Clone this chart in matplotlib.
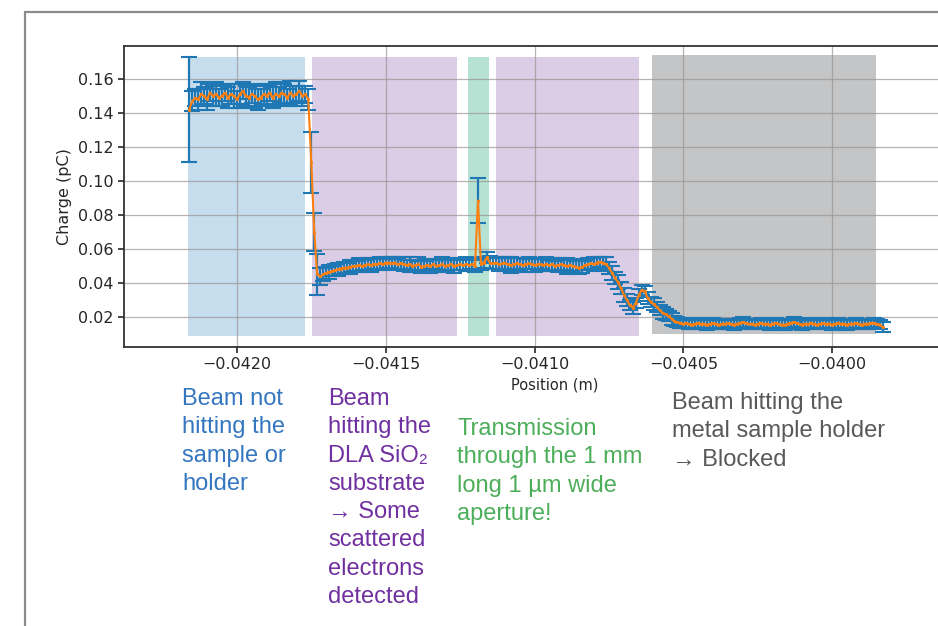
#!/usr/bin/env python3
"""Charge vs. position scan across the DLA sample, with region annotations."""

import numpy as np
import matplotlib.pyplot as plt
from matplotlib.patches import Rectangle

# scan positions (m), one point every 10 um
position_m = np.linspace(-0.04216, -0.03983, 234)

# measured charge, in fC (divided by 1000 -> pC when plotted)
charge_fc = [
    142, 147, 149, 148, 151, 150, 148, 152, 150, 151,
    149, 150, 152, 149, 151, 150, 148, 151, 153, 150,
    149, 151, 150, 148, 149, 151, 150, 152, 149, 151,
    150, 152, 151, 149, 152, 150, 151, 153, 150, 151,
    148, 111, 70, 45, 44, 45, 46, 46.5, 47, 47.5,
    48, 48.5, 49, 49, 49.5, 50, 50, 50.5, 50, 50.5,
    51, 50.5, 51, 51, 51.5, 51, 52, 52, 51.5, 52,
    51, 51.5, 51, 50.5, 51, 50, 50.5, 51, 49.5, 50,
    50.5, 50, 51, 50, 50.5, 51, 50, 50.5, 51, 50,
    50.5, 51, 50.5, 51, 50.5, 51, 50, 88.5, 51, 52,
    55, 52, 51.5, 52, 51, 51.5, 52, 51, 50.5, 51,
    51.5, 51, 50.5, 51, 51.5, 51, 50.5, 51, 51, 50.5,
    51, 50.5, 51, 50, 50.5, 51, 50.5, 50, 50.5, 50,
    49.5, 49, 49.5, 50.5, 51, 51.5, 51, 52, 52.5, 52,
    51, 49, 46, 43, 40.5, 37, 33, 30, 27, 25.5,
    28, 33, 36, 35, 31, 29, 27.5, 26, 24, 22.5,
    21.5, 20.5, 19, 17.5, 17, 16.5, 16, 16.5, 16, 15.5,
    16, 16.5, 16, 16, 15.5, 16, 16.5, 16, 15.5, 16,
    16, 16.5, 16, 15.5, 16, 16.5, 17, 16.5, 16, 16,
    15.5, 16, 16.5, 16, 16, 15.5, 16, 16.5, 16, 15.5,
    15.5, 16, 16.5, 17, 16.5, 16, 15.5, 16, 16, 16.5,
    16, 15.5, 16, 16.5, 16, 16, 15.5, 16, 16.5, 16,
    16, 15.5, 16, 16, 16.5, 16, 15.5, 16, 16, 16.5,
    16.5, 16, 15.5, 14,
]

# standard deviation of the charge, in fC
charge_err_fc = [
    31, 6, 5, 6, 7, 5, 6, 5, 6, 7,
    5, 6, 5, 6, 6, 7, 5, 6, 5, 6,
    6, 5, 7, 6, 5, 6, 6, 5, 6, 7,
    5, 6, 6, 5, 7, 6, 5, 6, 6, 5,
    6, 18, 11, 12, 5, 4, 3.5, 4, 3, 3.5,
    4, 3, 3.5, 3, 4, 3.5, 3, 4, 3.5, 3,
    3.5, 4, 3, 3.5, 4, 3, 3.5, 3, 4, 3.5,
    3, 3.5, 4, 3, 4.5, 3.5, 3, 4, 3.5, 3,
    3.5, 4, 3, 3.5, 3, 4, 3.5, 3, 3.5, 4,
    3, 3.5, 3, 4, 3.5, 3, 3.5, 13.5, 3.5, 3,
    3.5, 4, 3, 3.5, 4, 3, 3.5, 4, 4.5, 3.5,
    3, 3.5, 4, 3, 3.5, 3, 4, 3.5, 3, 3.5,
    4, 3, 3.5, 3, 4, 3.5, 3, 4.5, 3.5, 4,
    3.5, 4, 3.5, 3, 3.5, 3, 4, 3.5, 3, 3.5,
    4, 3.5, 4, 3.5, 4, 3.5, 4, 3.5, 3, 3.5,
    3, 3.5, 3, 3.5, 3.5, 3, 3.5, 3, 3, 3.5,
    3, 3, 3.5, 3, 3, 3, 2.5, 3, 3, 2.5,
    3, 3, 2.5, 3, 3, 2.5, 3, 3, 2.5, 3,
    3, 2.5, 3, 3, 2.5, 3, 3, 2.5, 3, 3,
    2.5, 3, 3, 2.5, 3, 3, 2.5, 3, 3, 2.5,
    3, 3, 2.5, 3, 3, 2.5, 3, 3, 2.5, 3,
    3, 2.5, 3, 3, 2.5, 3, 3, 2.5, 3, 3,
    2.5, 3, 3, 2.5, 3, 3, 2.5, 3, 3, 2.5,
    3, 3, 2.5, 3,
]

# shaded regions of the scan (m)
region_left = [-0.042164, -0.041748, -0.041225, -0.041131, -0.040604]
region_right = [-0.041772, -0.041262, -0.041154, -0.040648, -0.039852]
region_bottom = [0.0088, 0.0088, 0.0088, 0.0088, 0.0100]
region_top = [0.1730, 0.1730, 0.1730, 0.1730, 0.1740]
region_colors = ['#c6ddee', '#dccde6', '#b6e2d3', '#dccde6', '#c4c5c6']

# annotations under the plot
labels = [
    "Beam not\nhitting the\nsample or\nholder",
    "Beam\nhitting the\nDLA SiO\u2082\nsubstrate\n\u2192 Some\nscattered\nelectrons\ndetected",
    "Transmission\nthrough the 1 mm\nlong 1 \u00b5m wide\naperture!",
    "Beam hitting the\nmetal sample holder\n\u2192 Blocked",
]
label_colors = ['#3476c0', '#7030a0', '#4dae5a', '#595959']
label_xy_px = [(182, 388), (328, 388), (457, 418), (672, 392)]

W, H = 938, 626

fig = plt.figure(figsize=(W / 100, H / 100), dpi=100)

# slide frame
fig.patches.append(Rectangle((25 / W, -0.2), 2.0, 1.2 - 12 / H,
                             transform=fig.transFigure, fill=False,
                             edgecolor='#8c8c8c', linewidth=1.6))

ax = fig.add_axes([124 / W, (H - 347) / H, (985 - 124) / W, (347 - 46) / H])

for x0, x1, y0, y1, c in zip(region_left, region_right, region_bottom,
                             region_top, region_colors):
    ax.fill_between([x0, x1], y0, y1, color=c, linewidth=0, zorder=1)

charge = np.array(charge_fc) / 1000
charge_err = np.array(charge_err_fc) / 1000

ax.errorbar(position_m, charge, yerr=charge_err, fmt='none',
            ecolor='#1f77b4', elinewidth=1.6, capsize=5.5, capthick=1.5,
            zorder=3)
ax.plot(position_m, charge, color='#ff7f0e', linewidth=1.5, marker='.',
        markersize=2.5, zorder=4)

ax.set_xlim(-0.042379, -0.039487)
ax.set_ylim(0.00235, 0.1794)
ax.set_xticks([-0.0420, -0.0415, -0.0410, -0.0405, -0.0400])
ax.set_yticks([0.02, 0.04, 0.06, 0.08, 0.10, 0.12, 0.14, 0.16])
ax.grid(True, color='#9a9393', linewidth=0.9, alpha=0.7, zorder=2)
ax.tick_params(labelsize=11.5, colors='#262626', length=4, width=1.2)
ax.set_xlabel("Position (m)", fontsize=10.5, color='#262626')
ax.set_ylabel("Charge (pC)", fontsize=11.5, color='#262626')
for s in ax.spines.values():
    s.set_color('#333333')
    s.set_linewidth(1.3)

for txt, c, (px, py) in zip(labels, label_colors, label_xy_px):
    fig.text(px / W, 1 - py / H, txt, color=c, fontsize=17,
             family=['Liberation Sans', 'DejaVu Sans'], ha='left', va='top',
             linespacing=1.37)

fig.savefig("out.png", dpi=100)
